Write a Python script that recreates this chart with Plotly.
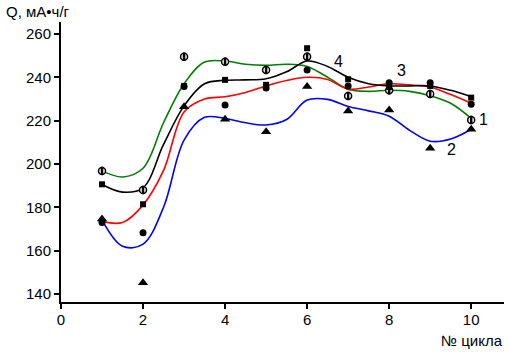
import plotly.graph_objects as go

# cycle numbers
cycles = [1, 2, 3, 4, 5, 6, 7, 8, 9, 10]

# measured points
s1_pts = [196.8, 188, 249.5, 247.2, 243.4, 249.5, 231.4, 234, 232.3, 220.3]
s2_pts = [174.6, 145.2, 226.4, 220.6, 214.9, 235.7, 224.4, 224.9, 207.2, 216]
s3_pts = [173, 168.3, 235.7, 227.2, 235, 243.4, 236, 237.5, 237.5, 227.5]
s4_pts = [190.6, 181.4, 236, 238.8, 236.5, 253.4, 239.1, 235.5, 236, 230.6]

# smoothed curves
curve_x = [1, 1.5, 2, 2.5, 3, 3.5, 4, 4.5, 5, 5.5, 6, 6.5, 7, 7.5, 8, 8.5, 9, 9.5, 10]
s1_curve = [196.8, 194, 198, 219, 237, 247, 247.5, 246, 245.5, 246, 245, 240, 234.5, 233.5, 234, 233.5, 231.5, 228, 221]
s2_curve = [174.2, 162, 163, 180, 211, 221.5, 221, 219, 218, 220.5, 229.5, 229.8, 226.5, 224.5, 222, 215.5, 210.5, 211.5, 216]
s3_curve = [173.5, 173, 181, 197, 224, 230, 231, 233, 236, 238.5, 240, 239, 234.5, 235.5, 237, 236.5, 235.5, 232, 228]
s4_curve = [190.5, 187, 189, 209, 226.8, 237, 238.6, 238.8, 239.3, 242.5, 247.5, 245, 240, 237, 236, 236, 236, 234, 231]

x_ticks = [0, 2, 4, 6, 8, 10]
y_ticks = [140, 160, 180, 200, 220, 240, 260]

FONT = "Liberation Sans, Arial, sans-serif"

fig = go.Figure()

curves = [
    (s1_curve, "#008000"),
    (s2_curve, "#0000ff"),
    (s3_curve, "#ff0000"),
    (s4_curve, "#000000"),
]
for ys, col in curves:
    fig.add_trace(go.Scatter(x=curve_x, y=ys, mode="lines",
                             line=dict(color=col, width=1.6, shape="spline", smoothing=1.0),
                             hoverinfo="skip"))

# markers
fig.add_trace(go.Scatter(x=cycles, y=s1_pts, mode="markers",
                         marker=dict(symbol="circle", size=7, color="white",
                                     line=dict(color="black", width=1.5))))
fig.add_trace(go.Scatter(x=cycles, y=s1_pts, mode="markers",
                         marker=dict(symbol="line-ns", size=6,
                                     line=dict(color="black", width=2.5))))
fig.add_trace(go.Scatter(x=cycles, y=s2_pts, mode="markers",
                         marker=dict(symbol="triangle-up", size=9, color="black",
                                     line=dict(width=0))))
fig.add_trace(go.Scatter(x=cycles, y=s3_pts, mode="markers",
                         marker=dict(symbol="circle", size=7, color="black",
                                     line=dict(width=0))))
fig.add_trace(go.Scatter(x=cycles, y=s4_pts, mode="markers",
                         marker=dict(symbol="square", size=6, color="black",
                                     line=dict(width=0))))

labels = [("4", 6.76, 247.5), ("3", 8.29, 243), ("1", 10.3, 220.6), ("2", 9.53, 206.5)]
for t, lx, ly in labels:
    fig.add_annotation(x=lx, y=ly, text=t, showarrow=False,
                       font=dict(family=FONT, size=16, color="black"))

fig.add_annotation(xref="paper", yref="paper", x=-0.1287, y=1.036, text="Q, мА•ч/г",
                   showarrow=False, xanchor="left", yanchor="middle",
                   font=dict(family=FONT, size=15, color="black"))
fig.add_annotation(xref="paper", yref="paper", x=1.002, y=-0.139, text="№ цикла",
                   showarrow=False, xanchor="right", yanchor="middle",
                   font=dict(family=FONT, size=15, color="black"))

fig.update_layout(
    width=510, height=358,
    margin=dict(l=61, r=6, t=22, b=56),
    paper_bgcolor="white", plot_bgcolor="white",
    showlegend=False,
    font=dict(family=FONT, size=15, color="black"),
    xaxis=dict(range=[0, 10.8], tickvals=x_ticks, ticks="outside", ticklen=5,
               tickwidth=1.5, tickcolor="black", showline=True, linecolor="black",
               linewidth=2, showgrid=False, zeroline=False, automargin=False,
               ticklabelstandoff=-2,
               tickfont=dict(family=FONT, size=15, color="black")),
    yaxis=dict(range=[136.3, 265.5], tickvals=y_ticks, ticks="outside", ticklen=5,
               tickwidth=1.5, tickcolor="black", showline=True, linecolor="black",
               linewidth=2, showgrid=False, zeroline=False, automargin=False,
               tickfont=dict(family=FONT, size=15, color="black")),
)

fig.write_html("out.html", config={"displayModeBar": False},
               post_script="document.body.style.margin='0';document.body.style.overflow='hidden';")
